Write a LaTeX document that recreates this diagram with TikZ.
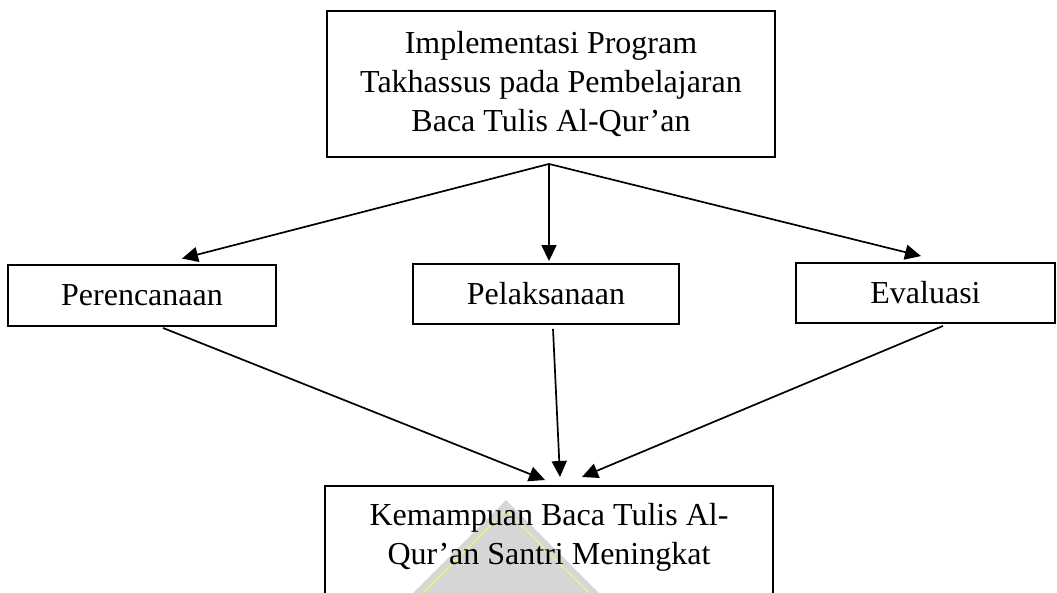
\documentclass[tikz,border=0pt]{standalone}
\usepackage{fontspec}
\setmainfont{Liberation Serif}
\usetikzlibrary{arrows.meta}
\begin{document}
\begin{tikzpicture}[x=1pt,y=-1pt,
  box/.style={draw, line width=1.9pt, inner sep=0pt},
  txt/.style={font=\fontsize{32}{39}\selectfont, align=center, inner sep=0pt},
  arr/.style={line width=1.7pt, -{Triangle[length=16pt,width=15pt]}},
  wmgray/.style={fill={rgb,255:red,214;green,214;blue,214}},
  wmline/.style={draw={rgb,255:red,240;green,234;blue,150}, line width=1.5pt}]
\useasboundingbox (0,0) rectangle (1057,592);
\clip (0,0) rectangle (1057,592);
% faint watermark
\path[wmgray] (506,500) -- (630,624) -- (382,624) -- cycle;
\draw[wmline] (506,510) -- (620,624);
\draw[wmline] (506,510) -- (392,624);
% nodes
\node[box, txt, minimum width=448pt, minimum height=146pt] (top) at (551,84)
  {Implementasi Program\\Takhassus pada Pembelajaran\\Baca Tulis Al-Qur’an};
\node[box, txt, minimum width=268pt, minimum height=61pt] (plan) at (142,295.5) {Perencanaan};
\node[box, txt, minimum width=266pt, minimum height=60pt] (pel) at (546,294) {Pelaksanaan};
\node[box, txt, minimum width=259pt, minimum height=60pt] (eval) at (925.5,293) {Evaluasi};
\node[box, minimum width=448pt, minimum height=140pt, anchor=north] (res) at (549,485) {};
\node[txt, anchor=north] (restext) at ([yshift=-18pt]res.north)
  {Kemampuan Baca Tulis Al-\\Qur’an Santri Meningkat};
% connectors
\coordinate (src) at ([xshift=-2pt,yshift=-6pt]top.south);
\draw[arr] (src) -- ([xshift=40pt,yshift=5.5pt]plan.north);
\draw[arr] (src) -- ([xshift=3pt,yshift=2pt]pel.north);
\draw[arr] (src) -- ([xshift=-4.5pt,yshift=6pt]eval.north);
\draw[arr] ([xshift=21pt,yshift=-1pt]plan.south) -- ([xshift=-4pt,yshift=5pt]res.north);
\draw[arr] ([xshift=7pt,yshift=-4pt]pel.south) -- ([xshift=11pt,yshift=8pt]res.north);
\draw[arr] ([xshift=17.5pt,yshift=-2pt]eval.south) -- ([xshift=33pt,yshift=8pt]res.north);
\end{tikzpicture}
\end{document}
